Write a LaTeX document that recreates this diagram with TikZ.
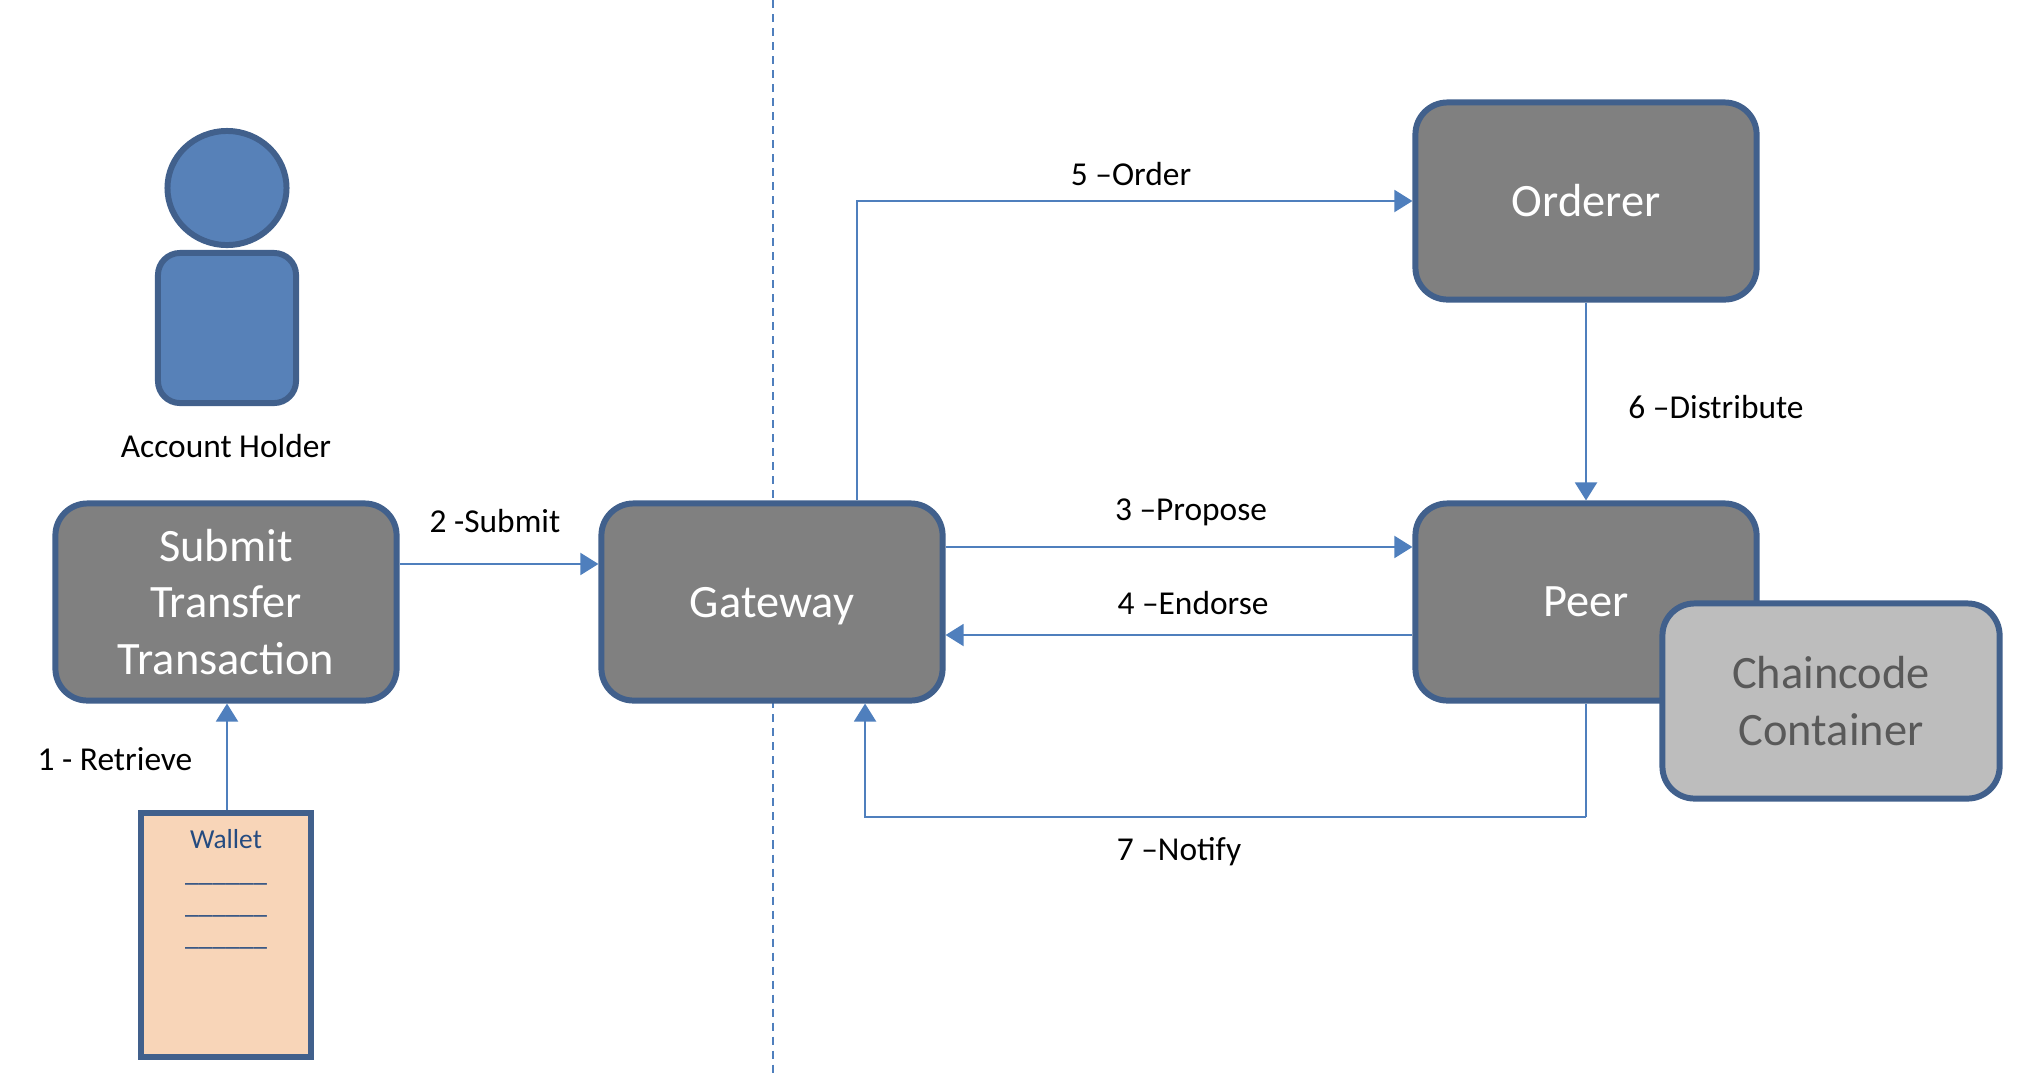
\documentclass[tikz,border=0pt]{standalone}
\usepackage{fontspec}
\setmainfont{Carlito}
\usepackage{tikz}
\usetikzlibrary{arrows.meta,positioning,shapes.geometric}
\definecolor{boxline}{HTML}{41608C}
\definecolor{flowline}{HTML}{4F7FBD}
\definecolor{personfill}{HTML}{5781B8}
\definecolor{walletfill}{HTML}{F8D5B8}
\definecolor{walletink}{HTML}{254B80}
\definecolor{codefill}{HTML}{BDBDBD}
\definecolor{codeink}{HTML}{595959}

\begin{document}
\begin{tikzpicture}[
  x=0.01cm, y=-0.01cm,
  every node/.style={font=\fontsize{9.5}{11.5}\selectfont, inner sep=1pt, align=center},
  component/.style={draw=boxline, line width=1.7pt, fill=black!50, rounded corners=0.32cm,
    minimum width=3.41cm, minimum height=1.97cm, text=white, font=\fontsize{13.2}{16}\selectfont},
  person/.style={draw=boxline, line width=1.7pt, fill=personfill},
  flow/.style={draw=flowline, line width=0.55pt, -{Triangle[length=0.18cm,width=0.22cm]}},
  link/.style={draw=flowline, line width=0.55pt}
]
\useasboundingbox (0,0) rectangle (2034,1078);
\coordinate (divtop) at (773,0);
\coordinate (divbottom) at (773,1078);
\draw[link, dash pattern=on 0.08cm off 0.06cm] (divtop) -- (divbottom);

\node[person, ellipse, inner sep=0pt, minimum width=1.19cm, minimum height=1.14cm] (head) at (227,188) {};
\node[person, rounded corners=0.22cm, minimum width=1.38cm, minimum height=1.5cm] (body) at (227,328) {};
\node (holder) at (226,446) {Account Holder};

\node[component] (submit) at (226,602) {Submit\\Transfer\\Transaction};
\node[component, text depth=0pt] (gateway) at (772,602) {Gateway};
\node[component] (orderer) at (1586,201) {Orderer};
\node[component] (peer) at (1586,602) {Peer};
\node[component, fill=codefill, text=codeink, minimum width=3.37cm, minimum height=1.95cm] (chaincode) at (1831,701) {Chaincode\\Container};

\node[draw=boxline, line width=1.7pt, fill=walletfill, minimum width=1.69cm, minimum height=2.43cm] (wallet) at (226,935) {};
\node[below=0.15cm of wallet.north, text=walletink, font=\fontsize{7.8}{9.2}\selectfont] (walletlines) {Wallet\\\_\_\_\_\_\_\\\_\_\_\_\_\_\\\_\_\_\_\_\_};

\draw[flow] (wallet.north -| head.south) -- (head.south |- submit.south);
\draw[flow] ([yshift=0.38cm]submit.east) -- ([yshift=0.38cm]gateway.west);
\draw[flow] ([yshift=0.55cm]gateway.east) -- ([yshift=0.55cm]peer.west);
\draw[flow] ([yshift=-0.33cm]peer.west) -- ([yshift=-0.33cm]gateway.east);
\draw[flow] ([xshift=0.85cm]gateway.north) |- (orderer.west);
\draw[flow] (orderer.south) -- (peer.north);
\coordinate (notifyturn) at (1586,817);
\draw[link] (peer.south) -- (notifyturn);
\draw[flow] (notifyturn) -| ([xshift=0.93cm]gateway.south);

\node (retrieve) at (115,759) {1 - Retrieve};
\node (submitlabel) at (495,521) {2 -Submit};
\node (proposelabel) at (1191,512) {3 –Propose};
\node (endorselabel) at (1193,603) {4 –Endorse};
\node (orderlabel) at (1131,174) {5 –Order};
\node (distribute) at (1716,407) {6 –Distribute};
\node (notifylabel) at (1179,852) {7 –Notify};
\end{tikzpicture}
\end{document}
